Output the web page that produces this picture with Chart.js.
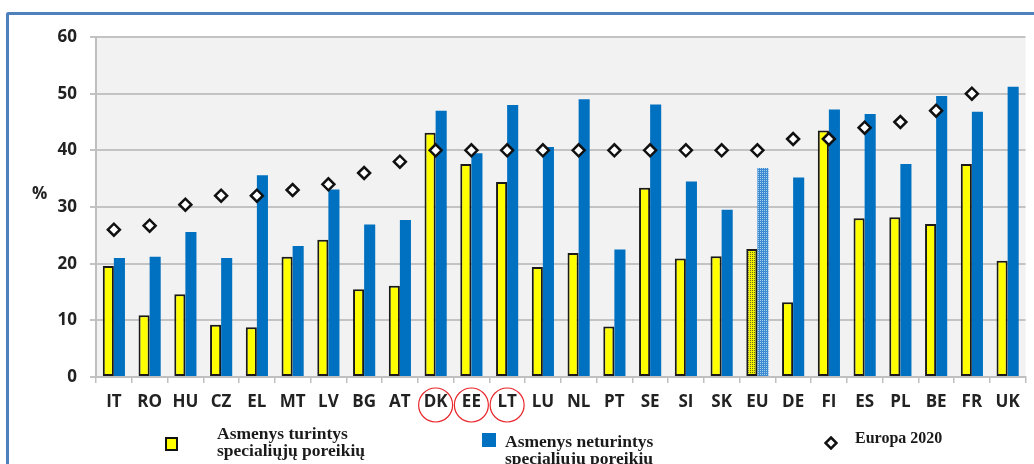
<!DOCTYPE html>
<html lang="lt">
<head>
<meta charset="UTF-8">
<title>Europa 2020</title>
<script src="https://cdn.jsdelivr.net/npm/chart.js"></script>
<style>
  html, body { margin: 0; width: 1034px; height: 464px; overflow: hidden; background: #fff; }
  .rem { position: absolute; left: 6px; top: 12px; width: 1100px; height: 500px; border-top: 3px solid #4f81bd; border-left: 3px solid #4f81bd; border-top-left-radius: 3px; }
  .drobe { position: absolute; left: 0; top: 0; width: 1034px; height: 464px; }
  .leg { position: absolute; font-family: "Liberation Serif", serif; font-weight: bold; font-size: 17.5px; line-height: 17px; color: #1a1a1a; white-space: nowrap; }
  .kv { position: absolute; box-sizing: border-box; }
  .proc { position: absolute; left: 32px; top: 181px; font-family: "Open Sans", sans-serif; font-weight: bold; font-size: 17px; line-height: 24px; color: #222; }
</style>
</head>
<body>
  <div class="rem"></div>
  <div class="drobe"><canvas id="grafikas"></canvas></div>
  <div class="proc">%</div>

  <div class="kv" style="left:165px; top:437px; width:13px; height:14px; background:#ffff00; border:2px solid #111;"></div>
  <div class="leg" style="left:217px; top:425px;">Asmenys turintys<br>specialiųjų poreikių</div>

  <div class="kv" style="left:482px; top:433px; width:14px; height:14px; background:#0070c0;"></div>
  <div class="leg" style="left:505px; top:433px;">Asmenys neturintys<br>specialiųjų poreikių</div>

  <svg class="kv" style="left:824px; top:436px;" width="14" height="14">
    <polygon points="7,1.5 12.5,7 7,12.5 1.5,7" fill="#fff" stroke="#111" stroke-width="2.5"/>
  </svg>
  <div class="leg" style="left:855px; top:430px; font-size:16px; line-height:16px;">Europa 2020</div>

<script>
  const paises = ['IT', 'RO', 'HU', 'CZ', 'EL', 'MT', 'LV', 'BG', 'AT', 'DK', 'EE', 'LT', 'LU',
    'NL', 'PT', 'SE', 'SI', 'SK', 'EU', 'DE', 'FI', 'ES', 'PL', 'BE', 'FR', 'UK'];
  const turintys = [19.6, 10.9, 14.6, 9.2, 8.8, 21.2, 24.2, 15.5, 16.1, 43.1, 37.6, 34.4, 19.4,
    21.9, 8.9, 33.4, 20.9, 21.3, 22.6, 13.2, 43.5, 28.0, 28.2, 27.0, 37.6, 20.5];
  const neturintys = [21.0, 21.2, 25.6, 21.0, 35.6, 23.1, 33.1, 26.9, 27.7, 47.0, 39.5, 48.0, 40.6,
    49.0, 22.5, 48.1, 34.5, 29.5, 36.9, 35.2, 47.2, 46.4, 37.6, 49.6, 46.8, 51.2];
  const europa2020 = [26, 26.7, 30.4, 32, 32, 33, 34, 36, 38, 40, 40, 40, 40,
    40, 40, 40, 40, 40, 40, 42, 42, 44, 45, 47, 50, null];
  const yMin = 0, yMax = 60, yZingsnis = 10;
  const apvesti = ['DK', 'EE', 'LT'];
  const vidurkis = 'EU';

  const geltona = '#ffff00';
  const melyna = '#0070c0';

  // taskuotas uzpildas ES vidurkiui
  function rastas(fonas, taskai) {
    const c = document.createElement('canvas');
    c.width = 2; c.height = 2;
    const x = c.getContext('2d');
    x.fillStyle = fonas;
    x.fillRect(0, 0, 2, 2);
    x.fillStyle = taskai;
    x.fillRect(0, 0, 1, 1);
    return x.createPattern(c, 'repeat');
  }
  const euIdx = paises.indexOf(vidurkis);
  const geltonaRastas = rastas('#f2f200', '#6b6b10');
  const melynaRastas = rastas('#3b8ad0', '#a9d0f0');

  const fondas = {
    id: 'fondas',
    beforeDraw(chart) {
      const a = chart.chartArea;
      const ctx = chart.ctx;
      ctx.save();
      ctx.fillStyle = '#f2f2f2';
      ctx.fillRect(a.left, a.top, a.right - a.left, a.bottom - a.top);
      ctx.restore();
    }
  };

  const ratai = {
    id: 'ratai',
    afterDraw(chart) {
      const ctx = chart.ctx;
      const x = chart.scales.x;
      ctx.save();
      ctx.strokeStyle = '#e8262b';
      ctx.lineWidth = 1.2;
      apvesti.forEach(k => {
        const px = x.getPixelForValue(paises.indexOf(k));
        ctx.beginPath();
        ctx.arc(px, x.top + 28, 17, 0, Math.PI * 2);
        ctx.stroke();
      });
      ctx.restore();
    }
  };

  const zymes = { family: "'Open Sans', sans-serif", weight: 'bold', size: 17 };

  new Chart(document.getElementById('grafikas'), {
    type: 'bar',
    data: {
      labels: paises,
      datasets: [
        {
          label: 'Asmenys turintys specialiųjų poreikių',
          data: turintys,
          backgroundColor: c => c.dataIndex === euIdx ? geltonaRastas : geltona,
          borderColor: '#1a1a1a',
          borderWidth: 2,
          borderSkipped: false,
          categoryPercentage: 0.62,
          barPercentage: 1.0
        },
        {
          label: 'Asmenys neturintys specialiųjų poreikių',
          data: neturintys,
          backgroundColor: c => c.dataIndex === euIdx ? melynaRastas : melyna,
          borderWidth: 0,
          categoryPercentage: 0.62,
          barPercentage: 1.0
        },
        {
          type: 'line',
          label: 'Europa 2020',
          data: europa2020,
          showLine: false,
          pointStyle: 'rectRot',
          pointRadius: 6,
          pointBackgroundColor: '#ffffff',
          pointBorderColor: '#111',
          pointBorderWidth: 2.5,
          order: -1
        }
      ]
    },
    options: {
      responsive: true,
      maintainAspectRatio: false,
      animation: false,
      layout: { padding: { left: 0, right: 7, top: 37, bottom: 47 } },
      plugins: {
        legend: { display: false },
        tooltip: { enabled: false }
      },
      scales: {
        x: {
          afterFit: s => { s.height = 40; },
          grid: { offset: true, drawOnChartArea: false, drawTicks: true, tickLength: 6, color: '#bfbfbf', lineWidth: 1.5 },
          border: { color: '#bfbfbf', width: 2 },
          ticks: { color: '#222', font: zymes, padding: 9, maxRotation: 0, autoSkip: false }
        },
        y: {
          min: yMin,
          max: yMax,
          afterFit: s => { s.width = 96; },
          grid: { color: '#c3c3c3', lineWidth: 2, tickLength: 6 },
          border: { color: '#bfbfbf', width: 2 },
          ticks: { stepSize: yZingsnis, color: '#222', font: zymes, padding: 13 }
        }
      }
    },
    plugins: [fondas, ratai]
  });
</script>
</body>
</html>
